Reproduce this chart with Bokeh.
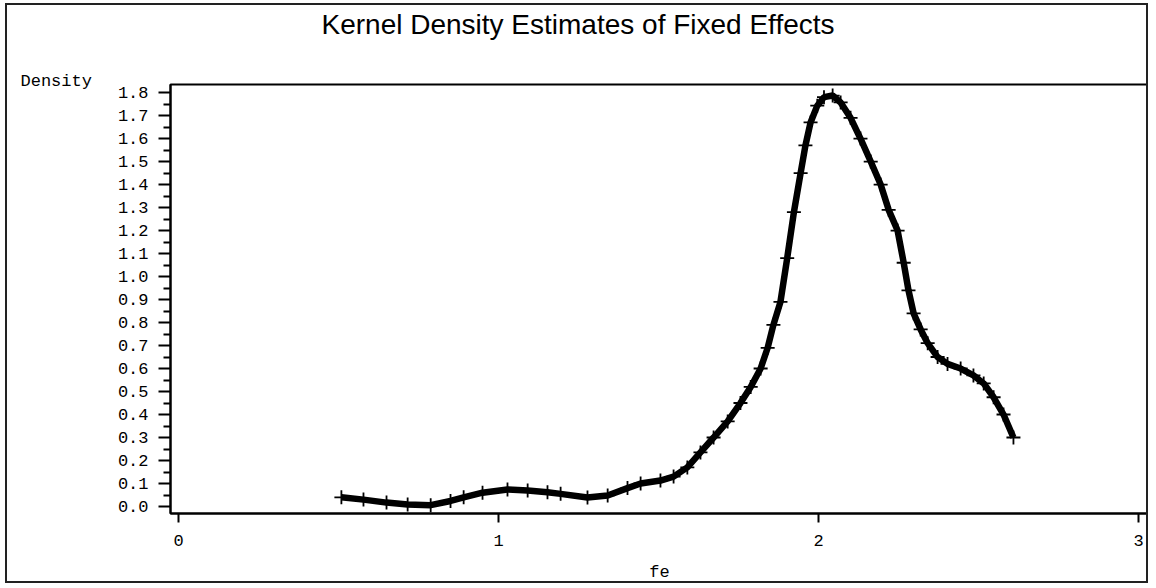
from bokeh.plotting import figure
from bokeh.models import Range1d, FixedTicker, Title
from bokeh.embed import file_html
from bokeh.resources import INLINE

# ---- data ----
fe = [0.509, 0.578, 0.650, 0.716, 0.788, 0.850, 0.891, 0.950, 1.028, 1.091,
      1.153, 1.194, 1.278, 1.341, 1.403, 1.444, 1.506, 1.547, 1.590, 1.631,
      1.672, 1.716, 1.756, 1.788, 1.819, 1.841, 1.859, 1.881, 1.902, 1.923,
      1.944, 1.959, 1.975, 1.996, 2.017, 2.044, 2.069, 2.100, 2.131,
      2.163, 2.194, 2.219, 2.247, 2.266, 2.281, 2.297, 2.319, 2.341, 2.372,
      2.403, 2.444, 2.484, 2.516, 2.547, 2.578, 2.609]
density = [0.040, 0.030, 0.017, 0.009, 0.006, 0.024, 0.040, 0.060, 0.074, 0.070,
           0.062, 0.055, 0.039, 0.048, 0.080, 0.100, 0.113, 0.130, 0.170, 0.235,
           0.300, 0.370, 0.450, 0.520, 0.600, 0.690, 0.790, 0.890, 1.080, 1.280,
           1.450, 1.570, 1.670, 1.743, 1.780, 1.787, 1.757, 1.690, 1.600,
           1.500, 1.400, 1.290, 1.200, 1.060, 0.940, 0.840, 0.770, 0.710, 0.650,
           0.620, 0.600, 0.570, 0.535, 0.475, 0.400, 0.300]

x_ticks = [0, 1, 2, 3]
y_ticks = [0.0, 0.1, 0.2, 0.3, 0.4, 0.5, 0.6, 0.7, 0.8, 0.9,
           1.0, 1.1, 1.2, 1.3, 1.4, 1.5, 1.6, 1.7, 1.8]
y_tick_labels = ["0.0", "0.1", "0.2", "0.3", "0.4", "0.5", "0.6", "0.7", "0.8", "0.9",
                 "1.0", "1.1", "1.2", "1.3", "1.4", "1.5", "1.6", "1.7", "1.8"]
y_minor = [t + 0.05 for t in y_ticks[:-1]]

title_text = "Kernel Density Estimates of Fixed Effects"
x_label = "fe"
y_label = "Density"

MONO = "Liberation Mono"

p = figure(width=1143, height=580, output_backend="svg", toolbar_location=None,
           x_range=Range1d(-0.025, 3.031), y_range=Range1d(-0.0304, 1.835),
           min_border_left=163, min_border_right=2, min_border_top=79,
           min_border_bottom=72)

p.styles = {"border": "2px solid #222", "margin": "3px 0px 0px 5px"}
p.background_fill_color = "white"
p.border_fill_color = "white"
p.outline_line_color = "black"
p.outline_line_width = 2
p.xgrid.visible = False
p.ygrid.visible = False

# stacked from the frame outwards: "Density", a spacer, the main title
p.add_layout(Title(text=y_label, align="left", offset=-150, standoff=-12,
                   text_font=MONO, text_font_size="17px",
                   text_font_style="normal", text_color="black"), "above")
p.add_layout(Title(text=" ", align="left", standoff=22.6,
                   text_font="Liberation Sans", text_font_size="10px",
                   text_color="white"), "above")
p.add_layout(Title(text=title_text, align="left", offset=151, standoff=0,
                   text_font="Liberation Sans", text_font_size="28px",
                   text_font_style="normal", text_color="black"), "above")

# x axis
p.xaxis.ticker = FixedTicker(ticks=x_ticks, minor_ticks=[])
p.xaxis.axis_line_width = 2
p.xaxis.major_tick_line_width = 2
p.xaxis.major_tick_out = 9
p.xaxis.major_tick_in = 0
p.xaxis.major_label_standoff = 12
p.xaxis.major_label_text_font = MONO
p.xaxis.major_label_text_font_size = "17px"
p.xaxis.major_label_text_color = "black"
p.xaxis.axis_label = x_label
p.xaxis.axis_label_text_font = MONO
p.xaxis.axis_label_text_font_size = "17px"
p.xaxis.axis_label_text_font_style = "normal"
p.xaxis.axis_label_text_color = "black"
p.xaxis.axis_label_standoff = 14

# y axis
p.yaxis.ticker = FixedTicker(ticks=y_ticks, minor_ticks=y_minor)
p.yaxis.major_label_overrides = {t: s for t, s in zip(y_ticks, y_tick_labels)}
p.yaxis.axis_line_width = 2
p.yaxis.major_tick_line_width = 2
p.yaxis.minor_tick_line_width = 2
p.yaxis.major_tick_out = 12
p.yaxis.major_tick_in = 0
p.yaxis.minor_tick_out = 7
p.yaxis.minor_tick_in = 0
p.yaxis.major_label_standoff = 10
p.yaxis.major_label_text_font = MONO
p.yaxis.major_label_text_font_size = "17px"
p.yaxis.major_label_text_color = "black"

p.line(fe, density, line_color="black", line_width=6.5)
p.scatter(fe, density, marker="cross", size=14, line_color="black", line_width=1.8)

open("out.html", "w").write(file_html(p, INLINE))
